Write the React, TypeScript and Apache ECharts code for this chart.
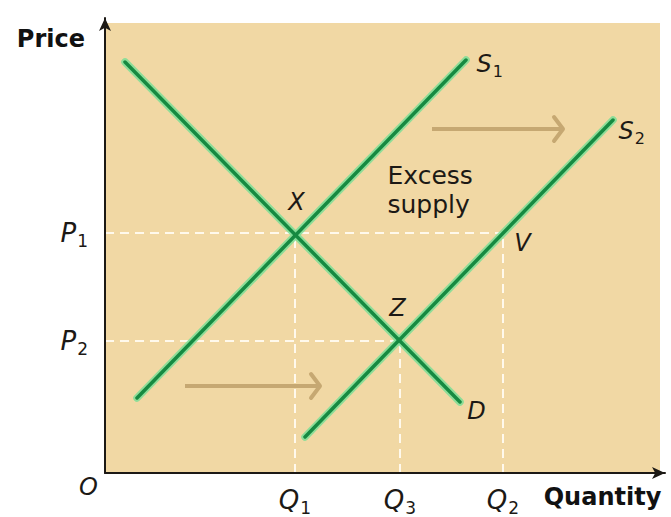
import React, { useEffect, useRef } from "react";
import * as echarts from "echarts";

// ---- data (axis units: x = quantity, y = price) ----
const demandD: number[][] = [[20, 411], [355, 71]];
const supplyS1: number[][] = [[32, 75], [361, 413]];
const supplyS2: number[][] = [[200, 36], [508, 353]];

const P1 = 240;
const P2 = 132;
const Q1 = 190;
const Q3 = 295;
const Q2 = 398;

const priceTickValues = [P2, P1];
const priceTickLetters = ["P", "P"];
const priceTickSubs = ["2", "1"];
const quantityTickValues = [Q1, Q3, Q2];
const quantityTickLetters = ["Q", "Q", "Q"];
const quantityTickSubs = ["1", "3", "2"];

const guideLines: number[][][] = [
  [[0, P1], [Q2, P1]],
  [[0, P2], [Q3, P2]],
  [[Q1, 0], [Q1, P1]],
  [[Q3, 0], [Q3, P2]],
  [[Q2, 0], [Q2, P1]],
];

const shiftArrows: number[][][] = [
  [[327, 344], [458, 344]],
  [[80, 87], [215, 87]],
];
const arrowHeads: number[][][] = [
  [[449, 356], [458, 344], [449, 332]],
  [[206, 99], [215, 87], [206, 75]],
];

const pointNames = ["X", "Z", "V", "D"];
const pointCoords: number[][] = [[192, 271], [293, 165], [418, 230], [372, 62]];

const curveNames = ["S", "S"];
const curveSubs = ["1", "2"];
const curveCoords: number[][] = [[372, 409], [514, 342]];

const originLabel = "O";
const originCoord = [-16, -14];

const noteLines = ["Excess", "supply"];
const noteCoord = [283, 283];

const xAxisTitle = "Quantity";
const xAxisTitleCoord = [498, -24];
const yAxisTitle = "Price";

const backgroundArea: number[][] = [[0, 0], [555, 450]];

const X_MAX = 560;
const Y_MAX = 455;

const FONT = "DejaVu Sans";
const INK = "#1c1915";

const richSub = {
  m: { fontFamily: FONT, fontStyle: "italic", fontSize: 26, color: INK },
  s: { fontFamily: FONT, fontSize: 17, color: INK, padding: [16, 0, 0, 1] },
};
const richSubSmall = {
  m: { fontFamily: FONT, fontStyle: "italic", fontSize: 24, color: INK },
  s: { fontFamily: FONT, fontSize: 16, color: INK, padding: [15, 0, 0, 1] },
};

function subLabel(letter: string, sub: string) {
  return `{m|${letter}}{s|${sub}}`;
}

export default function App() {
  const ref = useRef<HTMLDivElement>(null);

  useEffect(() => {
    if (!ref.current) return;
    const chart = echarts.init(ref.current, undefined, { renderer: "svg" });

    const greenLine = (data: number[][], name: string) => [
      {
        type: "line",
        name: name + "-glow",
        data,
        symbol: "none",
        z: 3,
        lineStyle: { color: "rgba(125,222,150,0.85)", width: 7.5, cap: "round" },
        silent: true,
      },
      {
        type: "line",
        name,
        data,
        symbol: "none",
        z: 4,
        lineStyle: { color: "#168a41", width: 3.5, cap: "round" },
        silent: true,
      },
    ];

    const labelSeries = (name: string, data: any[], label: any) => ({
      type: "scatter",
      name,
      symbolSize: 1,
      clip: false,
      silent: true,
      z: 6,
      itemStyle: { color: "transparent" },
      data,
      label: { show: true, position: [0, 0], opacity: 1, ...label },
    });

    const option: any = {
      animation: false,
      backgroundColor: "#ffffff",
      grid: { left: 105, right: 6, top: 18, bottom: 44 },
      xAxis: {
        type: "value",
        min: 0,
        max: X_MAX,
        z: 10,
        splitLine: { show: false },
        axisTick: { show: false },
        axisLine: {
          show: true,
          onZero: false,
          symbol: ["none", "arrow"],
          symbolSize: [9, 13],
          lineStyle: { color: INK, width: 2 },
        },
        axisLabel: {
          customValues: quantityTickValues,
          margin: 10,
          formatter: (v: number) => {
            const i = quantityTickValues.indexOf(v);
            return i >= 0 ? subLabel(quantityTickLetters[i], quantityTickSubs[i]) : "";
          },
          rich: richSub,
        },
      },
      yAxis: {
        type: "value",
        min: 0,
        max: Y_MAX,
        z: 10,
        splitLine: { show: false },
        axisTick: { show: false },
        axisLine: {
          show: true,
          onZero: false,
          symbol: ["none", "arrow"],
          symbolSize: [9, 13],
          lineStyle: { color: INK, width: 2 },
        },
        axisLabel: {
          customValues: priceTickValues,
          margin: 17,
          formatter: (v: number) => {
            const i = priceTickValues.indexOf(v);
            return i >= 0 ? subLabel(priceTickLetters[i], priceTickSubs[i]) : "";
          },
          rich: richSub,
        },
        name: yAxisTitle,
        nameLocation: "end",
        nameGap: -21,
        nameTextStyle: {
          fontFamily: FONT,
          fontWeight: "bold",
          fontSize: 24,
          color: "#111111",
          align: "right",
          verticalAlign: "middle",
          padding: [0, 20, 0, 0],
        },
      },
      series: [
        {
          type: "line",
          name: "background",
          data: [],
          z: 1,
          silent: true,
          markArea: {
            silent: true,
            itemStyle: { color: "#f1d8a4" },
            data: [[{ coord: backgroundArea[0] }, { coord: backgroundArea[1] }]],
          },
        },
        ...guideLines.map((d, i) => ({
          type: "line",
          name: "guide" + i,
          data: d,
          symbol: "none",
          z: 2,
          silent: true,
          lineStyle: { color: "rgba(255,251,240,0.95)", width: 2, type: [9, 6] },
        })),
        ...shiftArrows.map((d, i) => ({
          type: "line",
          name: "shift" + i,
          data: d,
          symbol: "none",
          z: 3,
          silent: true,
          lineStyle: { color: "#c6a872", width: 4 },
        })),
        ...arrowHeads.map((d, i) => ({
          type: "line",
          name: "head" + i,
          data: d,
          symbol: "none",
          z: 3,
          silent: true,
          lineStyle: { color: "#c6a872", width: 4, cap: "round", join: "round" },
        })),
        ...greenLine(supplyS1, "S1"),
        ...greenLine(supplyS2, "S2"),
        ...greenLine(demandD, "D"),
        labelSeries(
          "points",
          pointCoords.map((c, i) => ({ value: c, label: { formatter: pointNames[i] } })),
          {
            align: "center",
            verticalAlign: "middle",
            fontFamily: FONT,
            fontStyle: "italic",
            fontSize: 24,
            color: INK,
          }
        ),
        labelSeries(
          "curves",
          curveCoords.map((c, i) => ({
            value: c,
            label: { formatter: subLabel(curveNames[i], curveSubs[i]) },
          })),
          { align: "left", verticalAlign: "middle", rich: richSubSmall }
        ),
        labelSeries(
          "origin",
          [{ value: originCoord, label: { formatter: originLabel } }],
          {
            align: "center",
            verticalAlign: "middle",
            fontFamily: FONT,
            fontStyle: "italic",
            fontSize: 24,
            color: INK,
          }
        ),
        labelSeries(
          "note",
          [{ value: noteCoord, label: { formatter: noteLines.join("\n") } }],
          {
            align: "left",
            verticalAlign: "middle",
            fontFamily: FONT,
            fontSize: 25,
            lineHeight: 29,
            color: INK,
          }
        ),
        labelSeries(
          "xTitle",
          [{ value: xAxisTitleCoord, label: { formatter: xAxisTitle } }],
          {
            align: "center",
            verticalAlign: "middle",
            fontFamily: FONT,
            fontWeight: "bold",
            fontSize: 24,
            color: "#111111",
          }
        ),
      ],
    };

    chart.setOption(option);
    return () => chart.dispose();
  }, []);

  return (
    <div
      ref={ref}
      style={{ position: "fixed", left: 0, top: 0, width: 671, height: 517, background: "#fff" }}
    />
  );
}
